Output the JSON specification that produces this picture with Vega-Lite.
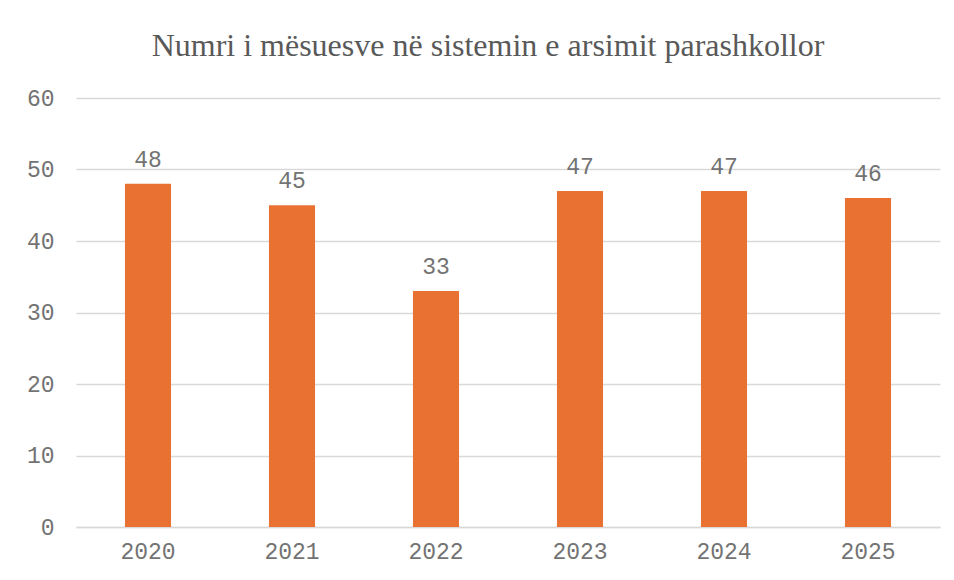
{
  "$schema": "https://vega.github.io/schema/vega-lite/v6.json",
  "autosize": "none",
  "width": 864,
  "height": 429,
  "padding": {"left": 76, "top": 98, "right": 14, "bottom": 53},
  "background": "white",
  "title": {
    "text": "Numri i mësuesve në sistemin e arsimit parashkollor",
    "font": "Liberation Serif",
    "fontSize": 32,
    "fontWeight": "normal",
    "color": "#595959",
    "anchor": "middle",
    "frame": "group",
    "dx": -20,
    "offset": 24
  },
  "data": {
    "values": [
      {"year": "2020", "value": 48},
      {"year": "2021", "value": 45},
      {"year": "2022", "value": 33},
      {"year": "2023", "value": 47},
      {"year": "2024", "value": 47},
      {"year": "2025", "value": 46}
    ]
  },
  "encoding": {
    "x": {
      "field": "year", "type": "nominal",
      "scale": {"paddingInner": 0.68, "paddingOuter": 0.34},
      "axis": {
        "title": null, "labelAngle": 0, "ticks": false,
        "labelFont": "Liberation Mono", "labelFontSize": 23, "labelColor": "#737373",
        "labelPadding": 13, "domainColor": "#d9d9d9", "domainWidth": 1.5, "grid": false
      }
    },
    "y": {
      "field": "value", "type": "quantitative",
      "scale": {"domain": [0, 60]},
      "axis": {
        "title": null, "values": [0, 10, 20, 30, 40, 50, 60], "ticks": false, "domain": false,
        "labelFont": "Liberation Mono", "labelFontSize": 23, "labelColor": "#737373",
        "labelPadding": 22, "gridColor": "#d9d9d9", "gridWidth": 1.5
      }
    }
  },
  "layer": [
    {"mark": {"type": "bar", "color": "#E97132"}},
    {"mark": {"type": "text", "baseline": "bottom", "dy": -12, "font": "Liberation Mono", "fontSize": 23, "color": "#737373"},
     "encoding": {"text": {"field": "value", "type": "quantitative"}}}
  ],
  "config": {"view": {"stroke": null}}
}
